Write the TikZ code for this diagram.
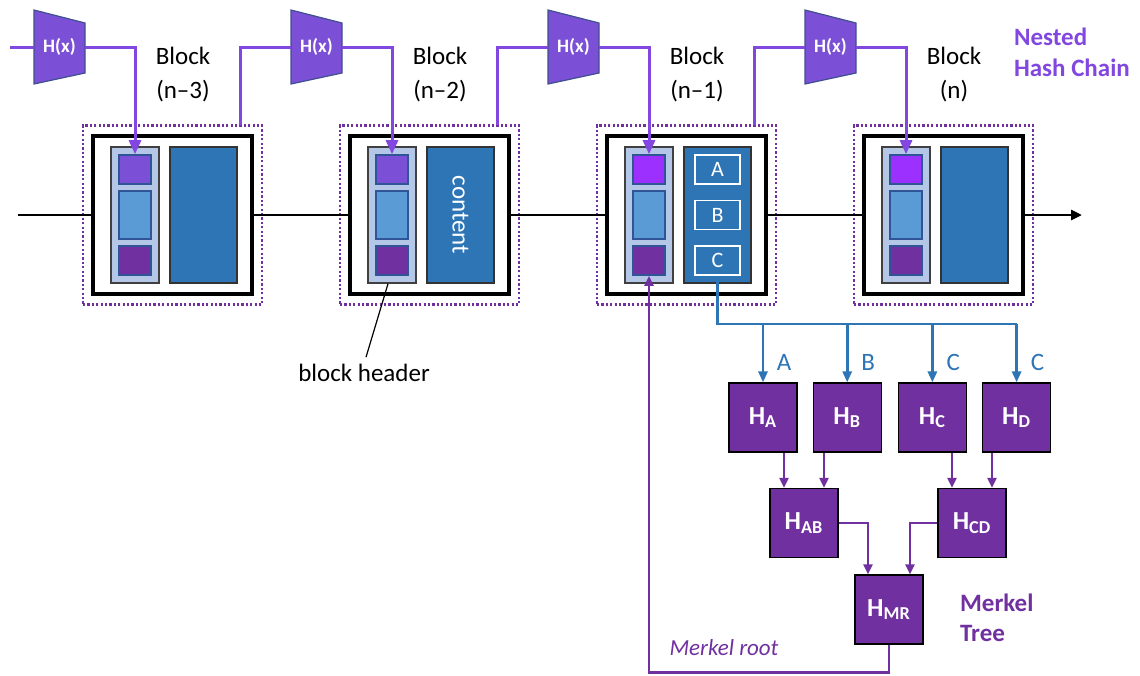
\documentclass[tikz,border=0pt]{standalone}
\usepackage{fontspec}
\setmainfont{Carlito}
\usepackage{tikz}
\usetikzlibrary{positioning,arrows.meta}
\usepackage{xcolor}
\definecolor{hashline}{HTML}{8147E0}
\definecolor{hashfill}{HTML}{7B4FD6}
\definecolor{hashedge}{HTML}{3F4F8F}
\definecolor{brighttop}{HTML}{9B30FF}
\definecolor{midblue}{HTML}{5B9BD5}
\definecolor{edgeblue}{HTML}{2F5597}
\definecolor{treepurple}{HTML}{7030A0}
\definecolor{panelblue}{HTML}{B4C7E7}
\definecolor{contblue}{HTML}{2E75B6}

\begin{document}
\begin{tikzpicture}[x=0.5pt,y=-0.5pt,
  blockbox/.style={draw=black,fill=white,line width=1.6pt,minimum width=79.5pt,minimum height=79pt,inner sep=0},
  dotbox/.style={draw=treepurple,line width=1.1pt,dash pattern=on 1.1pt off 1.1pt,minimum size=89.5pt,inner sep=0},
  hdrbox/.style={draw=black!75,fill=panelblue,line width=0.8pt,minimum width=24pt,minimum height=68pt,inner sep=0},
  sqbox/.style={draw=edgeblue,line width=0.8pt,minimum width=16pt,inner sep=0},
  contbox/.style={draw=black!80,fill=contblue,line width=0.8pt,minimum width=33.5pt,minimum height=68pt,inner sep=0},
  letbox/.style={draw=white,line width=0.8pt,minimum width=22.5pt,minimum height=14.5pt,inner sep=0,text=white,font=\fontsize{11}{13}\selectfont},
  blocklbl/.style={align=center,font=\fontsize{12.5}{17}\selectfont},
  hashshape/.style={fill=hashfill,draw=hashedge,line width=0.6pt},
  hashtxt/.style={text=white,font=\bfseries\fontsize{9.5}{11}\selectfont,minimum width=25.5pt,inner sep=0},
  hashln/.style={draw=hashline,line width=1.5pt,>={Triangle[length=7pt,width=6pt]}},
  chainln/.style={draw=black,line width=1.4pt,>={Triangle[length=5.5pt,width=5pt]}},
  blueln/.style={draw=contblue,line width=1.4pt,>={Triangle[length=5.5pt,width=4.5pt]}},
  treeln/.style={draw=treepurple,line width=1.2pt,>={Triangle[length=5pt,width=4.5pt]}},
  treebox/.style={draw=black,fill=treepurple,line width=0.6pt,minimum width=34pt,minimum height=34.5pt,inner sep=0,text=white,font=\bfseries\fontsize{13}{15}\selectfont},
  bluetxt/.style={text=contblue,font=\fontsize{12.5}{15}\selectfont}]
\useasboundingbox (0,0) rectangle (1140,675);

% blocks of the chain
\foreach \i/\lab/\tc in {1/n–3/hashfill,2/n–2/hashfill,3/n–1/brighttop,4/n/brighttop}{
  \pgfmathsetmacro{\xa}{93+257*(\i-1)}
  \node[dotbox] (dt\i) at (\xa+79.5,215) {};
  \node[blockbox] (bk\i) at (\xa+79.5,215) {};
  \node[hdrbox] (hr\i) at (\xa+42,215) {};
  \node[sqbox,fill=\tc,minimum height=14.5pt] (tp\i) at (\xa+42,169.5) {};
  \node[sqbox,fill=midblue,minimum height=24pt] (md\i) at (\xa+42,215) {};
  \node[sqbox,fill=treepurple,minimum height=14.5pt] (bt\i) at (\xa+42,260.5) {};
  \node[contbox] (ct\i) at (\xa+110.5,215) {};
  \node[blocklbl] (lb\i) at (\xa+90,75) {Block\\(\lab)};
  \path[hashshape] (\xa-59,10) -- (\xa-8,23) -- (\xa-8,73) -- (\xa-59,84) -- cycle;
  \node[hashtxt] (h\i) at (\xa-33.5,47) {H(x)};
  \draw[hashln,->] (h\i.east) -| (tp\i.north);
  \coordinate (up\i) at (\xa+147,125);
}

% nested hash chain
\coordinate (hin) at (10,47);
\draw[hashln] (hin) -- (h1.west);
\foreach \j/\i in {1/2,2/3,3/4}
  \draw[hashln] (up\j) |- (h\i.west);
\node[text=hashline,font=\bfseries\fontsize{12.5}{15.5}\selectfont,align=left,anchor=west] (nhc) at (1007,52.5) {Nested\\Hash Chain};

% chain line
\coordinate (lin) at (18,215);
\coordinate (lout) at (1082,215);
\draw[chainln] (lin) -- (bk1.west);
\foreach \j/\i in {1/2,2/3,3/4}
  \draw[chainln] (bk\j.east) -- (bk\i.west);
\draw[chainln,->] (bk4.east) -- (lout);

% block contents
\node[rotate=-90,text=white,font=\fontsize{12.5}{15}\selectfont] (ctx) at (ct2) {content};
\node[letbox] (cB) at (ct3) {B};
\node[letbox,above=7.5pt of cB] (cA) {A};
\node[letbox,below=7.5pt of cB] (cC) {C};

\node[font=\fontsize{12.5}{15}\selectfont] (bh) at (364,373) {block header};
\draw[line width=0.6pt] ([xshift=-2pt]hr2.south) -- ([xshift=1pt]bh.north);

% merkel tree
\node[treebox] (ha) at (763,417.5) {H\textsubscript{A}};
\node[treebox,right=7.5pt of ha] (hb) {H\textsubscript{B}};
\node[treebox,right=8pt of hb] (hc) {H\textsubscript{C}};
\node[treebox,right=7.5pt of hc] (hd) {H\textsubscript{D}};
\node[treebox] (hab) at (804,523) {H\textsubscript{AB}};
\node[treebox] (hcd) at (972,523) {H\textsubscript{CD}};
\node[treebox] (hmr) at (889,609.5) {H\textsubscript{MR}};

\coordinate (bus) at (0,324);
\draw[blueln] (cC.south) |- (hd.north |- bus);
\foreach \n/\t in {ha/A,hb/B,hc/C,hd/C}{
  \draw[blueln,->] (\n.north |- bus) -- (\n.north);
  \node[bluetxt] (l\n) at ([xshift=10.5pt,yshift=10pt]\n.north) {\t};
}

\draw[treeln,->] ([xshift=-10pt]hab.north |- ha.south) -- ([xshift=-10pt]hab.north);
\draw[treeln,->] ([xshift=10pt]hab.north |- hb.south) -- ([xshift=10pt]hab.north);
\draw[treeln,->] ([xshift=-10pt]hcd.north |- hc.south) -- ([xshift=-10pt]hcd.north);
\draw[treeln,->] ([xshift=10pt]hcd.north |- hd.south) -- ([xshift=10pt]hcd.north);
\draw[treeln,->] (hab.east) -| ([xshift=-10.5pt]hmr.north);
\draw[treeln,->] (hcd.west) -| ([xshift=10.5pt]hmr.north);
\draw[treeln,->] (hmr.south) -- ++(0,28) -| (bt3.south);

\node[text=treepurple,font=\itshape\fontsize{11.5}{14}\selectfont] (mroot) at (724,648) {Merkel root};
\node[text=treepurple,font=\bfseries\fontsize{12.5}{15}\selectfont,align=left,anchor=west] (mtree) at (953,618) {Merkel\\Tree};
\end{tikzpicture}
\end{document}
